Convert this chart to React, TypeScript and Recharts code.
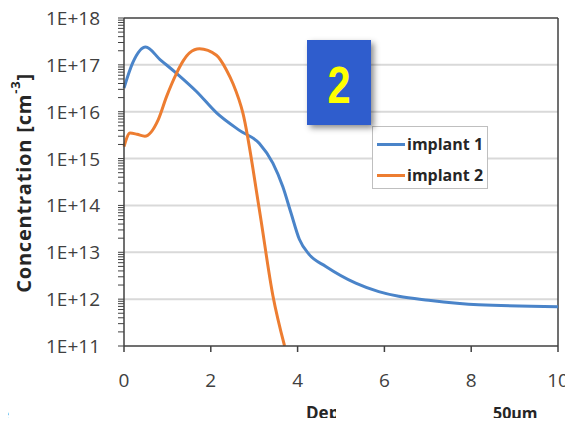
import React from "react";
import { LineChart, Line, XAxis, YAxis, ReferenceLine, Legend } from "recharts";

// depth [um] vs concentration [cm^-3]
const implant1 = [
  { x: 0, y: 3.2e16 },
  { x: 0.2, y: 1.1e17 },
  { x: 0.5, y: 2.4e17 },
  { x: 0.83, y: 1.3e17 },
  { x: 1.21, y: 6.6e16 },
  { x: 1.67, y: 2.7e16 },
  { x: 2.14, y: 9.3e15 },
  { x: 2.66, y: 4.0e15 },
  { x: 3.12, y: 2.1e15 },
  { x: 3.43, y: 8e14 },
  { x: 3.66, y: 2.5e14 },
  { x: 3.85, y: 6.8e13 },
  { x: 4.04, y: 1.9e13 },
  { x: 4.27, y: 8.9e12 },
  { x: 4.65, y: 5e12 },
  { x: 5.34, y: 2.2e12 },
  { x: 5.87, y: 1.45e12 },
  { x: 6.33, y: 1.15e12 },
  { x: 7.02, y: 9.5e11 },
  { x: 8.17, y: 7.6e11 },
  { x: 10, y: 6.9e11 },
];

const implant2 = [
  { x: 0, y: 1.8e15 },
  { x: 0.14, y: 3.5e15 },
  { x: 0.3, y: 3.3e15 },
  { x: 0.48, y: 3.0e15 },
  { x: 0.79, y: 6.8e15 },
  { x: 0.98, y: 2.1e16 },
  { x: 1.21, y: 6.6e16 },
  { x: 1.36, y: 1.2e17 },
  { x: 1.51, y: 1.8e17 },
  { x: 1.74, y: 2.2e17 },
  { x: 2.13, y: 1.6e17 },
  { x: 2.36, y: 7.8e16 },
  { x: 2.51, y: 4e16 },
  { x: 2.74, y: 9.3e15 },
  { x: 3.12, y: 8e13 },
  { x: 3.43, y: 1.2e12 },
  { x: 3.7, y: 1e11 },
];

const xTicks = [0, 2, 4, 6, 8, 10];
const majorExps = [11, 12, 13, 14, 15, 16, 17, 18];
const minorMult = [2, 3, 4, 5, 6, 7, 8, 9];

const BLUE = "#4a84c9";
const ORANGE = "#ed7d31";
const AXIS = "#404040";
const FONT = "'Open Sans', 'Liberation Sans', sans-serif";

const yTicks: number[] = [];
majorExps.forEach((e) => {
  yTicks.push(Math.pow(10, e));
  if (e < 18) minorMult.forEach((m) => yTicks.push(m * Math.pow(10, e)));
});

const isMajor = (v: number) => Math.abs(Math.log10(v) - Math.round(Math.log10(v))) < 1e-9;

const YTick = (props: any) => {
  const { x, y, payload } = props;
  if (!isMajor(payload.value)) return <g />;
  const e = Math.round(Math.log10(payload.value));
  return (
    <text x={x} y={y} dy={7} textAnchor="end" fill={AXIS} fontSize={19} fontFamily={FONT}>
      {`1E+${e}`}
    </text>
  );
};

const LegendBox = () => (
  <div
    style={{
      position: "relative",
      width: 116,
      height: 63,
      border: "1px solid #bfbfbf",
      background: "#fff",
      fontFamily: FONT,
      fontWeight: 700,
      fontSize: 16,
      color: "#262626",
      boxSizing: "border-box",
      textAlign: "left",
    }}
  >
    {[
      { name: "implant 1", color: BLUE, top: 6 },
      { name: "implant 2", color: ORANGE, top: 37 },
    ].map((it) => (
      <div key={it.name} style={{ position: "absolute", left: 4, top: it.top, display: "flex", alignItems: "center", whiteSpace: "nowrap" }}>
        <span style={{ display: "inline-block", width: 28, height: 3, background: it.color, marginRight: 2 }} />
        <span>{it.name}</span>
      </div>
    ))}
  </div>
);

export default function App() {
  return (
    <div style={{ position: "relative", width: 573, height: 426, margin: -8, background: "#fff", overflow: "hidden" }}>
      <LineChart width={573} height={426} margin={{ top: 18, right: 15, bottom: 0, left: 0 }}>
        <XAxis
          dataKey="x"
          type="number"
          domain={[0, 10]}
          ticks={xTicks}
          interval={0}
          tickSize={6}
          tickMargin={22}
          height={80}
          axisLine={{ stroke: AXIS, strokeWidth: 1.5 }}
          tickLine={{ stroke: AXIS, strokeWidth: 1.5 }}
          tick={{ fill: AXIS, fontSize: 19, fontFamily: FONT }}
        />
        <YAxis
          type="number"
          scale="log"
          domain={[1e11, 1e18]}
          allowDataOverflow
          ticks={yTicks}
          interval={0}
          width={124}
          tickSize={6}
          tickMargin={18}
          axisLine={{ stroke: AXIS, strokeWidth: 1.5 }}
          tickLine={{ stroke: AXIS, strokeWidth: 1 }}
          tick={<YTick />}
        />
        {majorExps.slice(1, 7).map((e) => (
          <ReferenceLine key={e} y={Math.pow(10, e)} stroke="#d9d9d9" strokeWidth={2} />
        ))}
        <ReferenceLine y={1e18} stroke={AXIS} strokeWidth={1.5} />
        <ReferenceLine x={10} stroke={AXIS} strokeWidth={1.5} />
        <Legend
          layout="horizontal"
          verticalAlign="middle"
          align="center"
          content={<LegendBox />}
          wrapperStyle={{ left: 372, top: 126, width: 116, height: 63 }}
        />
        <Line
          data={implant1}
          dataKey="y"
          name="implant 1"
          type="monotone"
          stroke={BLUE}
          strokeWidth={3}
          dot={false}
          isAnimationActive={false}
        />
        <Line
          data={implant2}
          dataKey="y"
          name="implant 2"
          type="monotone"
          stroke={ORANGE}
          strokeWidth={3}
          dot={false}
          isAnimationActive={false}
        />
      </LineChart>

      {/* top grey strip of the slide */}
      <div
        style={{
          position: "absolute",
          left: 0,
          top: 0,
          width: 573,
          height: 8,
          background: "linear-gradient(to bottom, #d4d4d4, #8f8f8f 75%, #ffffff)",
        }}
      />

      {/* numbered badge */}
      <div
        style={{
          position: "absolute",
          left: 307,
          top: 40,
          width: 64,
          height: 85,
          background: "#2f5dcd",
          boxShadow: "3px 3px 6px rgba(0,0,0,0.45)",
        }}
      >
        <svg width={64} height={85}>
          <text
            x={32}
            y={63}
            textAnchor="middle"
            fill="#ffff00"
            fontSize={52}
            fontWeight={700}
            fontFamily="'Liberation Sans', Arial, sans-serif"
            transform="translate(32,0) scale(0.8,1) translate(-32,0)"
          >
            2
          </text>
        </svg>
      </div>

      <svg width={573} height={426} style={{ position: "absolute", left: 0, top: 0, pointerEvents: "none" }}>
        <text
          x={23}
          y={183}
          transform="rotate(-90, 23, 183)"
          textAnchor="middle"
          dominantBaseline="central"
          fontSize={20}
          letterSpacing={0.8}
          fontWeight={700}
          fill="#262626"
          fontFamily={FONT}
        >
          <tspan>Concentration [cm</tspan>
          <tspan dy={-8} fontSize={13}>-3</tspan>
          <tspan dy={8}>]</tspan>
        </text>
        <text x={0} y={419} fontSize={15} fontWeight={700} fill="#262626" fontFamily={FONT}>
          e
        </text>
        <text x={306} y={419} fontSize={17} fontWeight={700} fill="#262626" fontFamily={FONT}>
          Dep
        </text>
        <rect x={336} y={398} width={150} height={30} fill="#fff" />
        <text x={493} y={419} fontSize={16} fontWeight={700} fill="#262626" fontFamily={FONT}>
          50µm
        </text>
      </svg>
    </div>
  );
}
